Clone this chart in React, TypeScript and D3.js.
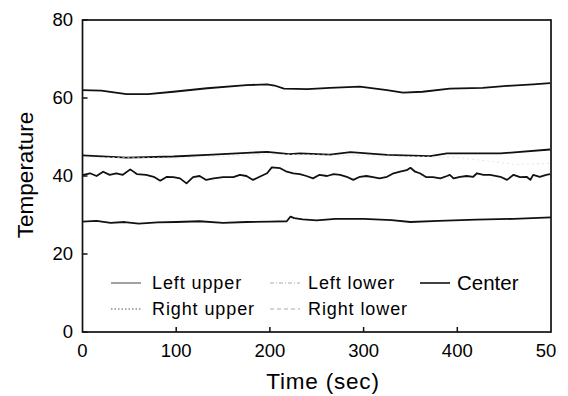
import React from "react";
import * as d3 from "d3";

// ---- data (time in sec, temperature) ----
const leftUpperT = [0, 20, 47, 70, 97, 133, 175, 197, 205, 215, 240, 264, 296, 325, 342, 363, 392, 427, 453, 481, 499];
const leftUpperV = [62.0, 61.9, 61.0, 61.0, 61.6, 62.5, 63.3, 63.5, 63.2, 62.4, 62.3, 62.6, 62.9, 62.0, 61.4, 61.6, 62.4, 62.6, 63.1, 63.5, 63.8];

const leftLowerT = [0, 47, 97, 139, 197, 221, 232, 264, 286, 325, 371, 389, 446, 499];
const leftLowerV = [45.3, 44.7, 45.0, 45.5, 46.2, 45.6, 45.8, 45.5, 46.1, 45.4, 45.1, 45.8, 45.8, 46.8];

const centerT = [0, 1, 8, 15, 22, 29, 36, 43, 51, 58, 68, 76, 83, 90, 97, 104, 111, 118, 125, 132, 140, 150, 161, 168, 175, 182, 189, 197, 202, 211, 218, 225, 232, 239, 246, 253, 261, 268, 275, 282, 289, 296, 303, 310, 317, 325, 332, 339, 346, 350, 355, 360, 367, 374, 382, 389, 392, 396, 403, 410, 417, 421, 428, 435, 446, 453, 460, 467, 474, 478, 481, 488, 495, 499];
const centerV = [40.3, 40.3, 40.7, 40.0, 41.1, 40.3, 40.7, 40.3, 41.7, 40.5, 40.3, 39.8, 38.8, 39.8, 39.7, 39.4, 38.1, 39.7, 40.0, 39.0, 39.4, 39.7, 39.7, 40.3, 40.0, 39.0, 39.8, 40.7, 42.2, 42.0, 41.1, 40.7, 40.5, 40.0, 39.4, 40.3, 40.0, 40.5, 40.3, 39.8, 39.0, 39.8, 40.0, 39.7, 39.4, 39.8, 40.7, 41.1, 41.5, 42.1, 41.1, 40.7, 39.7, 39.7, 39.4, 40.0, 40.3, 39.4, 39.8, 40.0, 39.8, 40.7, 40.3, 40.3, 39.8, 39.0, 40.3, 39.7, 39.8, 39.0, 40.3, 39.8, 40.3, 40.5];

const rightUpperT = [0, 15, 30, 45, 60, 80, 100, 125, 150, 175, 200, 218, 222, 226, 235, 250, 270, 300, 330, 350, 380, 420, 460, 500];
const rightUpperV = [28.3, 28.5, 28.0, 28.2, 27.8, 28.1, 28.2, 28.4, 28.0, 28.2, 28.3, 28.4, 29.6, 29.2, 28.9, 28.6, 29.0, 29.0, 28.7, 28.2, 28.5, 28.8, 29.0, 29.4];

const rightLowerT = [0, 100, 200, 300, 400, 460, 500];
const rightLowerV = [44.8, 44.6, 45.6, 45.2, 44.8, 43.0, 43.2];

const yTicks = [0, 20, 40, 60, 80];
const xTicks = [0, 100, 200, 300, 400, 500];
const xTickLabels = ["0", "100", "200", "300", "400", "50"];

const legendNames = ["Left upper", "Left lower", "Center", "Right upper", "Right lower"];

const W = 568, H = 396;
const x0 = 82.5, x1 = 551, yTop = 20, yBot = 332;

export default function App() {
  const x = d3.scaleLinear().domain([0, 500]).range([x0, x1]);
  const y = d3.scaleLinear().domain([0, 80]).range([yBot, yTop]);
  const mk = (ts: number[], vs: number[]) =>
    d3.line<number>().x((_, i) => x(ts[i])).y((v) => y(v)).curve(d3.curveLinear)(vs) || "";

  const font = "'Liberation Sans', Arial, sans-serif";
  const series = [
    { t: leftUpperT, v: leftUpperV, w: 1.8, c: "#111", dash: "" },
    { t: leftLowerT, v: leftLowerV, w: 1.8, c: "#111", dash: "" },
    { t: rightLowerT, v: rightLowerV, w: 0.8, c: "#ddd", dash: "2,3" },
    { t: centerT, v: centerV, w: 1.8, c: "#111", dash: "" },
    { t: rightUpperT, v: rightUpperV, w: 1.8, c: "#111", dash: "" },
  ];

  const legend = [
    { name: legendNames[0], lx: 111, ly: 283, dash: "", c: "#444", w: 1, fs: 18, ls: 0.9, tx: 152 },
    { name: legendNames[1], lx: 270, ly: 283, dash: "4,2,1,2", c: "#aaa", w: 1, fs: 18, ls: 0.9, tx: 308 },
    { name: legendNames[2], lx: 420, ly: 283, dash: "", c: "#111", w: 1.6, fs: 20.5, ls: 0, tx: 457 },
    { name: legendNames[3], lx: 111, ly: 309, dash: "1.5,2", c: "#555", w: 1, fs: 18, ls: 0.9, tx: 152 },
    { name: legendNames[4], lx: 270, ly: 309, dash: "4,3", c: "#aaa", w: 1, fs: 18, ls: 0.9, tx: 308 },
  ];

  return (
    <svg width={W} height={H} style={{ position: "absolute", left: 0, top: 0, background: "#fff" }} fontFamily={font}>
      <rect x={0} y={0} width={W} height={H} fill="#fff" />
      {/* data lines */}
      {series.map((s, i) => (
        <path key={i} d={mk(s.t, s.v)} fill="none" stroke={s.c} strokeWidth={s.w} strokeDasharray={s.dash} strokeLinejoin="round" />
      ))}
      {/* frame */}
      <rect x={x0} y={yTop} width={x1 - x0} height={yBot - yTop} fill="none" stroke="#111" strokeWidth={1.7} />
      {/* y ticks */}
      {yTicks.map((t) => (
        <g key={"y" + t}>
          <line x1={x0} x2={x0 + 5} y1={y(t)} y2={y(t)} stroke="#111" strokeWidth={1.5} />
          <text x={73} y={y(t)} dy="0.35em" textAnchor="end" fontSize={18.5} fill="#000">{t}</text>
        </g>
      ))}
      {/* x ticks */}
      {xTicks.map((t, i) => (
        <g key={"x" + t}>
          {i > 0 && i < xTicks.length - 1 && (
            <line x1={x(t)} x2={x(t)} y1={yBot} y2={yBot - 5} stroke="#111" strokeWidth={1.5} />
          )}
          <text x={i === xTicks.length - 1 ? x(t) - 5 : x(t)} y={357} textAnchor="middle" fontSize={18.5} fill="#000">{xTickLabels[i]}</text>
        </g>
      ))}
      {/* axis titles */}
      <text x={323} y={389} textAnchor="middle" fontSize={22.5} letterSpacing={0.8} fill="#000">Time (sec)</text>
      <text transform={`translate(33,175) rotate(-90)`} textAnchor="middle" fontSize={22.5} fill="#000">Temperature</text>
      {/* legend */}
      {legend.map((l) => (
        <g key={l.name}>
          <line x1={l.lx} x2={l.lx + 30} y1={l.ly} y2={l.ly} stroke={l.c} strokeWidth={l.w} strokeDasharray={l.dash} />
          <text x={l.tx} y={l.ly} dy="0.35em" fontSize={l.fs} letterSpacing={l.ls} fill="#000">{l.name}</text>
        </g>
      ))}
    </svg>
  );
}
